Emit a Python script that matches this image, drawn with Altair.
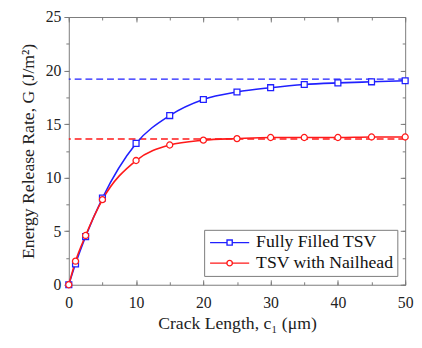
import altair as alt
import pandas as pd

# ---- data ----
crack_um = [0, 1, 2.5, 5, 10, 15, 20, 25, 30, 35, 40, 45, 50]
g_full = [0, 1.95, 4.5, 8.1, 13.2, 15.8, 17.3, 18.0, 18.4, 18.7, 18.85, 18.95, 19.05]
g_nail = [0, 2.2, 4.6, 7.95, 11.6, 13.05, 13.5, 13.65, 13.75, 13.75, 13.75, 13.8, 13.8]
series = ["Fully Filled TSV", "TSV with Nailhead"]
asymptote = [19.2, 13.6]
colors = ["#2020ff", "#ff1a1a"]
x_all = [0, 5, 10, 15, 20, 25, 30, 35, 40, 45, 50]
x_major = [0, 10, 20, 30, 40, 50]
y_all = [0, 2.5, 5, 7.5, 10, 12.5, 15, 17.5, 20, 22.5, 25]
y_major = [0, 5, 10, 15, 20, 25]

W, H = 343, 273

rows = []
for s, g in zip(series, [g_full, g_nail]):
    for c, v in zip(crack_um, g):
        rows.append({"c": c, "G": v, "series": s})
df = pd.DataFrame(rows)
asym_df = pd.DataFrame({"series": series, "G": asymptote})

FONT = "Liberation Serif"
GRAY = "#7a7a7a"
xscale = alt.Scale(domain=[0, 50], nice=False, zero=False)
yscale = alt.Scale(domain=[0, 25], nice=False)
cscale = alt.Scale(domain=series, range=colors)

# legend symbols: line + small marker drawn as custom paths
SQ = "M-2.85,0H-0.38M0.38,0H2.85M-0.38,-0.38H0.38V0.38H-0.38Z"
CI = "M-2.85,0H-0.4M0.4,0H2.85M-0.4,0A0.4,0.4,0,1,0,0.4,0A0.4,0.4,0,1,0,-0.4,0Z"
legend = alt.Legend(
    title=None, orient="none", legendX=138, legendY=217,
    labelFont=FONT, labelFontSize=18, labelColor="#111",
    strokeColor=GRAY, fillColor="white", padding=4, rowPadding=3,
    symbolSize=196, symbolStrokeWidth=1.4, symbolOffset=13, labelOffset=18,
    symbolFillColor="white",
)

base_axis = dict(grid=False, labelFlush=False, labelOverlap=False, domain=False, tickColor=GRAY,
                 tickWidth=1)


def tick_axis(orient, values, size, offset=0):
    return alt.Axis(orient=orient, values=values, tickSize=size, offset=offset,
                    labels=False, title=None, **base_axis)


x_labels = alt.Axis(
    orient="bottom", values=x_major, ticks=False, labelPadding=10, titlePadding=5,
    labelFont=FONT, labelFontSize=16, labelColor="#222",
    title="Crack Length, c\u2081 (\u03bcm)",
    titleFont=FONT, titleFontSize=18, titleFontWeight="normal", titleColor="#222",
    **base_axis,
)
y_labels = alt.Axis(
    orient="left", values=y_major, tickSize=5, labelPadding=3, titlePadding=8,
    labelFont=FONT, labelFontSize=16, labelColor="#222",
    title="Energy Release Rate, G (J/m\u00b2)",
    titleFont=FONT, titleFontSize=18, titleFontWeight="normal", titleColor="#222",
    **base_axis,
)

color_enc = alt.Color("series:N", scale=cscale, legend=legend)

rules = alt.Chart(asym_df).mark_rule(strokeDash=[7, 4], strokeWidth=1.5).encode(
    y=alt.Y("G:Q", scale=yscale, axis=y_labels),
    color=color_enc,
)

lines = alt.Chart(df).mark_line(interpolate="monotone", strokeWidth=1.6).encode(
    x=alt.X("c:Q", scale=xscale, axis=x_labels),
    y=alt.Y("G:Q", scale=yscale, axis=tick_axis("left", y_all, 3)),
    color=color_enc,
    detail="series:N",
)

pts_full = alt.Chart(df).transform_filter(
    alt.datum.series == series[0]
).mark_point(shape="square", filled=False, fill="white", size=36, strokeWidth=1.3, opacity=1).encode(
    x=alt.X("c:Q", scale=xscale, axis=tick_axis("top", x_all, 3, -H)),
    y=alt.Y("G:Q", scale=yscale, axis=tick_axis("left", y_all, 3, -W)),
    color=color_enc,
)

pts_nail = alt.Chart(df).transform_filter(
    alt.datum.series == series[1]
).mark_point(shape="circle", filled=False, fill="white", size=38, strokeWidth=1.3, opacity=1).encode(
    x=alt.X("c:Q", scale=xscale, axis=tick_axis("top", x_major, 5, -H)),
    y=alt.Y("G:Q", scale=yscale, axis=tick_axis("left", y_major, 5, -W)),
    color=color_enc,
)

legend_layer = alt.Chart(df).transform_filter("false").mark_point(
    filled=False, size=196, strokeWidth=1.4
).encode(
    x=alt.X("c:Q", scale=xscale, axis=tick_axis("bottom", x_all, 3, -H)),
    y=alt.Y("G:Q", scale=yscale, axis=None),
    color=color_enc,
    shape=alt.Shape("series:N", scale=alt.Scale(domain=series, range=[SQ, CI]), legend=legend),
)

tick_layer = alt.Chart(df).transform_filter("false").mark_point().encode(
    x=alt.X("c:Q", scale=xscale, axis=tick_axis("bottom", x_major, 5, -H)),
    y=alt.Y("G:Q", scale=yscale, axis=None),
)

chart = (
    alt.layer(rules, lines, pts_full, pts_nail, legend_layer, tick_layer)
    .resolve_axis(x="independent", y="independent")
    .properties(
        width=W, height=H,
        autosize=alt.AutoSizeParams(type="none"),
        padding={"left": 62, "top": 6, "right": 9, "bottom": 46},
        background="white",
    )
    .configure_view(stroke=GRAY, strokeWidth=1)
)

chart.save("out.html", embed_options={"renderer": "svg", "actions": False})
